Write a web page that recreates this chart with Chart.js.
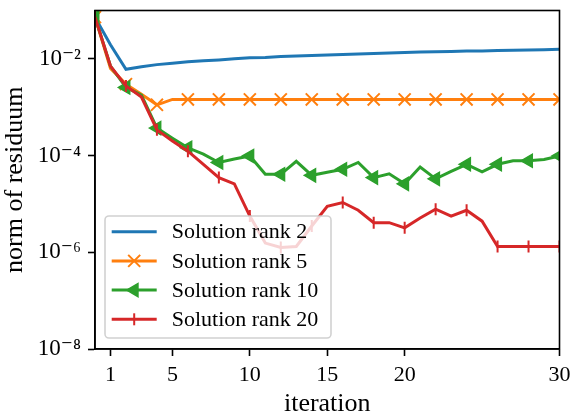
<!DOCTYPE html>
<html><head><meta charset="utf-8">
<script src="https://cdn.jsdelivr.net/npm/chart.js@4.4.1/dist/chart.umd.min.js"></script>
<style>html,body{margin:0;padding:0;background:#fff;} canvas{display:block;}</style>
</head><body>
<canvas id="c" width="576" height="420"></canvas>
<script>
const iterations = [0,1,2,3,4,5,6,7,8,9,10,11,12,13,14,15,16,17,18,19,20,21,22,23,24,25,26,27,28,29,30];
const rank2 = [7.3e-2,1.95e-2,6.1e-3,6.9e-3,7.6e-3,8.1e-3,8.7e-3,9.1e-3,9.5e-3,1.0e-2,1.05e-2,1.07e-2,1.12e-2,1.15e-2,1.17e-2,1.20e-2,1.23e-2,1.26e-2,1.29e-2,1.32e-2,1.35e-2,1.38e-2,1.40e-2,1.42e-2,1.45e-2,1.46e-2,1.48e-2,1.51e-2,1.52e-2,1.55e-2,1.58e-2];
const rank5 = [7.3e-2,6.3e-3,3.0e-3,1.86e-3,1.12e-3,1.45e-3,1.45e-3,1.45e-3,1.45e-3,1.45e-3,1.45e-3,1.45e-3,1.45e-3,1.45e-3,1.45e-3,1.45e-3,1.45e-3,1.45e-3,1.45e-3,1.45e-3,1.45e-3,1.45e-3,1.45e-3,1.45e-3,1.45e-3,1.45e-3,1.45e-3,1.45e-3,1.45e-3,1.45e-3,1.45e-3];
const rank10 = [7.3e-2,7.1e-3,2.57e-3,1.78e-3,3.7e-4,2.29e-4,1.45e-4,1.07e-4,7.2e-5,8.5e-5,9.8e-5,4.1e-5,4.1e-5,7.6e-5,3.9e-5,4.5e-5,5.2e-5,7.2e-5,3.5e-5,4.2e-5,2.6e-5,5.8e-5,3.3e-5,4.7e-5,6.6e-5,4.6e-5,6.6e-5,7.8e-5,7.8e-5,8.3e-5,9.8e-5];
const rank20 = [7.3e-2,7.1e-3,2.75e-3,1.62e-3,3.4e-4,2.0e-4,1.23e-4,6.6e-5,3.5e-5,2.6e-5,5.6e-6,1.55e-6,1.26e-6,1.32e-6,3.5e-6,8.9e-6,1.07e-5,7.4e-6,4.1e-6,4.1e-6,3.2e-6,5.1e-6,7.8e-6,5.6e-6,7.4e-6,4.4e-6,1.32e-6,1.32e-6,1.32e-6,1.32e-6,1.32e-6];
const seriesLabels = ['Solution rank 2','Solution rank 5','Solution rank 10','Solution rank 20'];
const xTickValues = [1,5,10,15,20,30];
const yTickValues = [1e-8,1e-6,1e-4,1e-2];
const yTickLabels = ['10\u207B\u2078','10\u207B\u2076','10\u207B\u2074','10\u207B\u00B2'];
const xTitle = 'iteration';
const yTitle = 'norm of residuum';

const FONT = '"Liberation Serif", "DejaVu Serif", serif';
const colors = ['#1f77b4','#ff7f0e','#2ca02c','#d62728'];
const markers = [
  null,
  {pointStyle:'crossRot', rotation:0, radius:8.5, borderWidth:2},
  {pointStyle:'triangle', rotation:-90, radius:7.5, borderWidth:1.5},
  {pointStyle:'line', rotation:90, radius:6, borderWidth:2}
];
const seriesData = [rank2, rank5, rank10, rank20];

const datasets = seriesData.map((vals, k) => {
  const m = markers[k];
  return {
    label: seriesLabels[k],
    data: iterations.map((x, i) => ({x: x, y: vals[i]})),
    borderColor: colors[k],
    backgroundColor: colors[k],
    borderWidth: 3,
    tension: 0,
    clip: 0,
    order: 3 - k,
    pointStyle: m ? m.pointStyle : 'circle',
    pointRotation: m ? m.rotation : 0,
    pointRadius: m ? (c => c.dataIndex % 2 === 0 ? m.radius : 0) : 0,
    pointBorderWidth: m ? m.borderWidth : 0,
    pointBorderColor: colors[k],
    pointBackgroundColor: colors[k],
    pointHoverRadius: 0
  };
});

const legendPlugin = {
  id: 'mplLegend',
  afterDatasetsDraw(chart) {
    const ctx = chart.ctx, a = chart.chartArea;
    const bx = a.left + 10, by = a.bottom - 11 - 122, bw = 226, bh = 122, r = 4;
    ctx.save();
    ctx.beginPath();
    ctx.moveTo(bx + r, by);
    ctx.arcTo(bx + bw, by, bx + bw, by + bh, r);
    ctx.arcTo(bx + bw, by + bh, bx, by + bh, r);
    ctx.arcTo(bx, by + bh, bx, by, r);
    ctx.arcTo(bx, by, bx + bw, by, r);
    ctx.closePath();
    ctx.fillStyle = 'rgba(255,255,255,0.8)';
    ctx.fill();
    ctx.lineWidth = 1.6;
    ctx.strokeStyle = 'rgba(204,204,204,0.9)';
    ctx.stroke();
    chart.data.datasets.forEach((ds, k) => {
      const y = by + 15.7 + k * 29.2;
      ctx.strokeStyle = colors[k];
      ctx.fillStyle = colors[k];
      ctx.lineWidth = 3;
      ctx.lineCap = 'butt';
      ctx.beginPath();
      ctx.moveTo(bx + 6.7, y);
      ctx.lineTo(bx + 51.7, y);
      ctx.stroke();
      const m = markers[k];
      if (m) {
        ctx.lineWidth = m.borderWidth;
        Chart.helpers.drawPoint(ctx, {pointStyle: m.pointStyle, rotation: m.rotation, radius: m.radius, borderWidth: m.borderWidth}, bx + 29.2, y);
      }
      ctx.fillStyle = '#000';
      ctx.font = '22px ' + FONT;
      ctx.textBaseline = 'middle';
      ctx.textAlign = 'left';
      ctx.fillText(ds.label, bx + 66.7, y + 1);
    });
    ctx.restore();
  },
  afterDraw(chart) {
    const ctx = chart.ctx, a = chart.chartArea;
    ctx.save();
    ctx.strokeStyle = '#000';
    ctx.lineWidth = 1.6;
    ctx.strokeRect(a.left, a.top, a.right - a.left, a.bottom - a.top);
    ctx.restore();
  }
};

const axisCommon = {
  grid: {display: true, drawOnChartArea: false, drawTicks: true, tickLength: 7, tickColor: '#000', tickWidth: 1.6, color: '#000'},
  border: {display: true, color: '#000', width: 1.6}
};

new Chart(document.getElementById('c'), {
  type: 'line',
  data: {datasets: datasets},
  options: {
    responsive: false,
    animation: false,
    events: [],
    devicePixelRatio: 1,
    layout: {padding: {top: 3, right: 16.5, left: 0, bottom: 0}},
    plugins: {legend: {display: false}, tooltip: {enabled: false}},
    scales: {
      x: Object.assign({}, axisCommon, {
        type: 'linear', min: 0, max: 30,
        afterBuildTicks: s => { s.ticks = xTickValues.map(v => ({value: v})); },
        afterFit: s => { s.height = 71; s.paddingLeft = 0; s.paddingRight = 0; },
        ticks: {autoSkip: false, maxRotation: 0, padding: 6, color: '#000', font: {family: FONT, size: 22}, callback: v => String(v)},
        title: {display: true, text: xTitle, color: '#000', font: {family: FONT, size: 26}, padding: {top: 0, bottom: 0}}
      }),
      y: Object.assign({}, axisCommon, {
        type: 'logarithmic', min: 1e-8, max: 1e-1,
        afterBuildTicks: s => { s.ticks = yTickValues.map(v => ({value: v})); },
        afterFit: s => { s.width = 95; s.paddingTop = 0; s.paddingBottom = 0; },
        ticks: {autoSkip: false, padding: 7, color: '#000', font: {family: FONT, size: 23}, callback: (v, i) => yTickLabels[i]},
        title: {display: true, text: yTitle, color: '#000', font: {family: FONT, size: 26}, padding: {top: 0, bottom: 0}}
      })
    }
  },
  plugins: [legendPlugin]
});
</script>
</body></html>
